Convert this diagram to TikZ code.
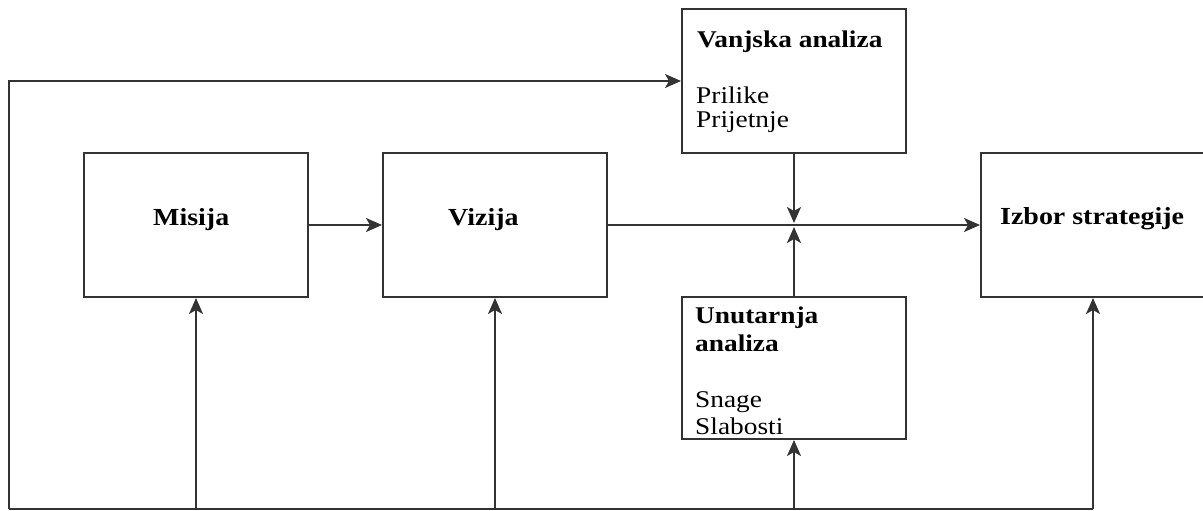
\documentclass[tikz,border=0pt]{standalone}
\usepackage{fontspec}
\setmainfont{Liberation Serif}[FakeStretch=1.14]
\usetikzlibrary{arrows.meta}
\definecolor{ln}{HTML}{333333}
\tikzset{
  box/.style={draw=ln, line width=2pt, inner sep=0pt, rectangle},
  conn/.style={draw=ln, line width=2pt},
  arr/.style={conn, -{Stealth[length=16pt,width=14pt,inset=4pt]}},
  ttl/.style={anchor=base west, inner sep=0pt, font=\fontsize{24}{26}\selectfont\bfseries},
  txt/.style={anchor=base west, inner sep=0pt, font=\fontsize{24}{26}\selectfont},
  mid/.style={anchor=base west, inner sep=0pt, font=\fontsize{24.5}{26}\selectfont\bfseries},
}
\begin{document}
\begin{tikzpicture}[x=1pt,y=-1pt]
\useasboundingbox (0,0) rectangle (1203,511);
% boxes
\node[box, minimum width=224pt, minimum height=144pt] (mis) at (196,225) {};
\node[box, minimum width=224pt, minimum height=144pt] (viz) at (495,225) {};
\node[box, minimum width=224pt, minimum height=144pt] (van) at (794,81) {};
\node[box, minimum width=224pt, minimum height=142pt] (unu) at (794,368) {};
\node[box, minimum width=230pt, minimum height=144pt] (izb) at (1096,225) {};
% texts
\node[mid] (tmis) at (153,225) {Misija};
\node[mid] (tviz) at (448,225) {Vizija};
\node[mid] (tizb) at (1000,224) {Izbor strategije};
\node[ttl] (tvan) at (697,48) {Vanjska analiza};
\node[txt] (tvan1) at (696,103) {Prilike};
\node[txt] (tvan2) at (696,128) {Prijetnje};
\node[ttl] (tunu1) at (695,323) {Unutarnja};
\node[ttl] (tunu2) at (695,351) {analiza};
\node[txt] (tunu3) at (695,407) {Snage};
\node[txt] (tunu4) at (695,434) {Slabosti};
% connectors
\coordinate (jd) at (794,223);
\coordinate (ju) at (794,227);
\coordinate (bl) at (9,509);
\coordinate (br) at (1093,509);
\draw[arr] (mis.east) -- (viz.west);
\draw[arr] (viz.east) -- (izb.west);
\draw[arr] (van.south) -- (jd);
\draw[arr] (unu.north) -- (ju);
\draw[conn] (bl) -- (br);
\draw[arr] (bl) |- (van.west);
\draw[arr] (mis.south |- bl) -- (mis.south);
\draw[arr] (viz.south |- bl) -- (viz.south);
\draw[arr] (unu.south |- bl) -- (unu.south);
\draw[arr] (br) -- (br |- izb.south);
\end{tikzpicture}
\end{document}
